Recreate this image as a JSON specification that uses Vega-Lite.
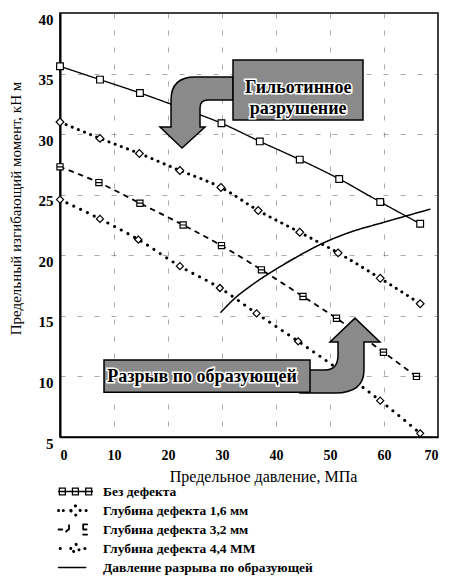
{
  "$schema": "https://vega.github.io/schema/vega-lite/v6.json",
  "width": 378,
  "height": 424,
  "autosize": {"type": "none"},
  "padding": {"left": 60, "top": 13, "right": 12, "bottom": 143},
  "background": "white",
  "config": {
    "font": "Liberation Serif",
    "view": {"stroke": "black", "strokeWidth": 1.5},
    "axis": {
      "labelFont": "Liberation Serif",
      "titleFont": "Liberation Serif",
      "labelColor": "black",
      "titleColor": "black",
      "domainColor": "black",
      "gridColor": "#444",
      "gridDash": [5, 12],
      "gridOpacity": 0.45,
      "ticks": false
    }
  },
  "datasets": {
    "curves": [
      {"s": "Без дефекта", "p": 0, "m": 35.6},
      {"s": "Без дефекта", "p": 7.4, "m": 34.5},
      {"s": "Без дефекта", "p": 14.8, "m": 33.4},
      {"s": "Без дефекта", "p": 22.2, "m": 32.2},
      {"s": "Без дефекта", "p": 29.9, "m": 30.9},
      {"s": "Без дефекта", "p": 37.0, "m": 29.4},
      {"s": "Без дефекта", "p": 44.4, "m": 27.9},
      {"s": "Без дефекта", "p": 51.7, "m": 26.3},
      {"s": "Без дефекта", "p": 59.3, "m": 24.4},
      {"s": "Без дефекта", "p": 66.7, "m": 22.6},
      {"s": "Глубина дефекта 1,6 мм", "p": 0, "m": 31.0},
      {"s": "Глубина дефекта 1,6 мм", "p": 7.4, "m": 29.65},
      {"s": "Глубина дефекта 1,6 мм", "p": 14.7, "m": 28.4},
      {"s": "Глубина дефекта 1,6 мм", "p": 22.2, "m": 27.0},
      {"s": "Глубина дефекта 1,6 мм", "p": 29.8, "m": 25.6},
      {"s": "Глубина дефекта 1,6 мм", "p": 36.7, "m": 23.7},
      {"s": "Глубина дефекта 1,6 мм", "p": 44.4, "m": 21.9},
      {"s": "Глубина дефекта 1,6 мм", "p": 51.5, "m": 20.2},
      {"s": "Глубина дефекта 1,6 мм", "p": 59.3, "m": 18.1},
      {"s": "Глубина дефекта 1,6 мм", "p": 66.7, "m": 16.0},
      {"s": "Глубина дефекта 3,2 мм", "p": 0, "m": 27.3},
      {"s": "Глубина дефекта 3,2 мм", "p": 7.2, "m": 26.0},
      {"s": "Глубина дефекта 3,2 мм", "p": 14.8, "m": 24.3},
      {"s": "Глубина дефекта 3,2 мм", "p": 22.8, "m": 22.5},
      {"s": "Глубина дефекта 3,2 мм", "p": 29.9, "m": 20.8},
      {"s": "Глубина дефекта 3,2 мм", "p": 37.3, "m": 18.8},
      {"s": "Глубина дефекта 3,2 мм", "p": 45.0, "m": 16.6},
      {"s": "Глубина дефекта 3,2 мм", "p": 51.2, "m": 14.8},
      {"s": "Глубина дефекта 3,2 мм", "p": 59.9, "m": 12.0},
      {"s": "Глубина дефекта 3,2 мм", "p": 66.0, "m": 10.0},
      {"s": "Глубина дефекта 4,4 ММ", "p": 0, "m": 24.6},
      {"s": "Глубина дефекта 4,4 ММ", "p": 7.4, "m": 23.0},
      {"s": "Глубина дефекта 4,4 ММ", "p": 14.5, "m": 21.3},
      {"s": "Глубина дефекта 4,4 ММ", "p": 22.2, "m": 19.1},
      {"s": "Глубина дефекта 4,4 ММ", "p": 29.6, "m": 17.3},
      {"s": "Глубина дефекта 4,4 ММ", "p": 36.4, "m": 15.2},
      {"s": "Глубина дефекта 4,4 ММ", "p": 44.1, "m": 12.9},
      {"s": "Глубина дефекта 4,4 ММ", "p": 51.5, "m": 10.6},
      {"s": "Глубина дефекта 4,4 ММ", "p": 59.3, "m": 8.0},
      {"s": "Глубина дефекта 4,4 ММ", "p": 66.7, "m": 5.3},
      {"s": "Давление  разрыва  по образующей", "p": 29.8, "m": 15.3},
      {"s": "Давление  разрыва  по образующей", "p": 32.0, "m": 16.3},
      {"s": "Давление  разрыва  по образующей", "p": 35.7, "m": 17.6},
      {"s": "Давление  разрыва  по образующей", "p": 39.8, "m": 18.8},
      {"s": "Давление  разрыва  по образующей", "p": 44.4, "m": 20.0},
      {"s": "Давление  разрыва  по образующей", "p": 48.7, "m": 21.0},
      {"s": "Давление  разрыва  по образующей", "p": 53.7, "m": 21.9},
      {"s": "Давление  разрыва  по образующей", "p": 59.8, "m": 22.7},
      {"s": "Давление  разрыва  по образующей", "p": 68.5, "m": 23.8}
    ]
  },
  "data": {"name": "curves"},
  "layer": [
    {
      "mark": {"type": "line", "interpolate": "monotone", "strokeCap": "round", "clip": true},
      "encoding": {
        "x": {
          "field": "p", "type": "quantitative",
          "scale": {"domain": [0, 70], "nice": false, "zero": false},
          "axis": {
            "title": "Предельное давление, МПа",
            "values": [0, 10, 20, 30, 40, 50, 60, 70],
            "labelFontSize": 14, "labelFontWeight": "bold", "labelPadding": 11,
            "titleFontSize": 16, "titleFontWeight": "normal",
            "titleX": 203, "titleY": 39, "titleBaseline": "middle",
            "domainWidth": 1.5, "grid": true
          }
        },
        "y": {
          "field": "m", "type": "quantitative",
          "scale": {"domain": [5, 40], "nice": false, "zero": false},
          "axis": {
            "title": "Предельный изгибающий момент, кН м",
            "values": [5, 10, 15, 20, 25, 30, 35, 40],
            "labelFontSize": 15, "labelFontWeight": "bold", "labelPadding": 7, "labelOffset": 6,
            "titleFontSize": 15, "titleFontWeight": "normal",
            "titleX": -45, "titleY": 195, "titleAngle": 270, "titleBaseline": "middle", "titleAlign": "center",
            "domainWidth": 2, "grid": true
          }
        },
        "color": {
          "field": "s", "type": "nominal",
          "scale": {
            "domain": ["Без дефекта", "Глубина дефекта 1,6 мм", "Глубина дефекта 3,2 мм", "Глубина дефекта 4,4 ММ", "Давление  разрыва  по образующей"],
            "range": ["black", "black", "black", "black", "black"]
          },
          "legend": {
            "orient": "none", "legendX": -3, "legendY": 469, "direction": "vertical", "title": null,
            "symbolSize": 1156, "clipHeight": 19, "labelOffset": 9, "padding": 0, "rowPadding": 0,
            "labelFont": "Liberation Serif", "labelFontSize": 13.5, "labelFontWeight": "bold", "labelColor": "black", "labelLimit": 320,
            "encode": {
              "symbols": {
                "update": {
                  "shape": {"signal": "datum.value === 'Без дефекта' ? 'M-1,0H1M-0.95,-0.2H-0.6V0.2H-0.95ZM-0.18,-0.2H0.17V0.2H-0.18ZM0.6,-0.2H0.95V0.2H0.6Z' : datum.value === 'Глубина дефекта 1,6 мм' ? 'M-1,0h0.05M-0.72,0h0.05M-0.28,0L0,-0.28L0.28,0L0,0.28ZM0.62,0h0.05' : datum.value === 'Глубина дефекта 3,2 мм' ? 'M-1,0H-0.78M-0.55,0.12L-0.3,-0.1M-0.38,-0.25V0.25M0.45,-0.3V0.3M0.45,-0.3H0.7M0.45,0H0.65M0.45,0.3H0.7' : datum.value === 'Глубина дефекта 4,4 ММ' ? 'M-0.9,0h0.05M-0.28,0L0,-0.28L0.28,0L0,0.28ZM0.55,0h0.05' : 'M-1,0H0.6'"},
                  "strokeWidth": {"signal": "datum.value === 'Глубина дефекта 1,6 мм' || datum.value === 'Глубина дефекта 4,4 ММ' ? 2.2 : 1.4"},
                  "fill": {"value": "transparent"},
                  "stroke": {"value": "black"},
                  "strokeDash": {"value": []},
                  "strokeCap": {"value": "round"}
                }
              }
            }
          }
        },
        "strokeDash": {
          "field": "s", "type": "nominal",
          "scale": {
            "domain": ["Без дефекта", "Глубина дефекта 1,6 мм", "Глубина дефекта 3,2 мм", "Глубина дефекта 4,4 ММ", "Давление  разрыва  по образующей"],
            "range": [[1, 0], [0.1, 6.5], [4, 6], [0.1, 7.5], [1, 0]]
          },
          "legend": null
        },
        "strokeWidth": {
          "field": "s", "type": "nominal",
          "scale": {
            "type": "ordinal",
            "domain": ["Без дефекта", "Глубина дефекта 1,6 мм", "Глубина дефекта 3,2 мм", "Глубина дефекта 4,4 ММ", "Давление  разрыва  по образующей"],
            "range": [1.3, 3, 1.8, 3, 1.5]
          },
          "legend": null
        }
      }
    },
    {
      "transform": [{"filter": {"field": "s", "oneOf": ["Без дефекта", "Глубина дефекта 1,6 мм", "Глубина дефекта 3,2 мм", "Глубина дефекта 4,4 ММ"]}}],
      "mark": {"type": "point", "filled": false, "fill": "white", "stroke": "black", "strokeWidth": 1.2, "opacity": 1},
      "encoding": {
        "x": {"field": "p", "type": "quantitative"},
        "y": {"field": "m", "type": "quantitative"},
        "shape": {
          "field": "s", "type": "nominal",
          "scale": {
            "domain": ["Без дефекта", "Глубина дефекта 1,6 мм", "Глубина дефекта 3,2 мм", "Глубина дефекта 4,4 ММ"],
            "range": ["square", "diamond", "M-1,-1H1V1H-1ZM-1,0H1", "diamond"]
          },
          "legend": null
        },
        "size": {
          "field": "s", "type": "nominal",
          "scale": {
            "type": "ordinal",
            "domain": ["Без дефекта", "Глубина дефекта 1,6 мм", "Глубина дефекта 3,2 мм", "Глубина дефекта 4,4 ММ"],
            "range": [45, 60, 38, 50]
          },
          "legend": null
        }
      }
    },
    {
      "data": {"values": [{}]},
      "mark": {"type": "point", "shape": "M0.825,-0.875L-0.125,-0.875Q-0.725,-0.875,-0.725,-0.3L-0.725,0.375L-1,0.375L-0.45,0.9L0.125,0.375L0,0.375L0,-0.1Q0,-0.3,0.2,-0.3L0.825,-0.3Z", "size": 6400, "filled": true, "fill": "#8a8a8a", "stroke": "black", "strokeWidth": 1.5, "opacity": 1},
      "encoding": {"x": {"datum": 25.93}, "y": {"datum": 31.82}}
    },
    {
      "data": {"values": [{}]},
      "mark": {"type": "point", "shape": "M-0.889,0.222L-0.333,0.222Q-0.044,0.222,-0.044,-0.111L-0.044,-0.4L-0.222,-0.4L0.333,-0.933L0.889,-0.4L0.533,-0.4L0.533,0.222Q0.533,0.733,-0.111,0.733L-0.889,0.733Z", "size": 8100, "filled": true, "fill": "#8a8a8a", "stroke": "black", "strokeWidth": 1.5, "opacity": 1},
      "encoding": {"x": {"datum": 51.85}, "y": {"datum": 11.35}}
    },
    {
      "data": {"values": [{}]},
      "mark": {"type": "rect", "fill": "#8a8a8a", "stroke": "black", "strokeWidth": 1.5},
      "encoding": {"x": {"datum": 32.04}, "x2": {"datum": 56.11}, "y": {"datum": 36.12}, "y2": {"datum": 31.16}}
    },
    {
      "data": {"values": [{}]},
      "mark": {"type": "rect", "fill": "#8a8a8a", "stroke": "black", "strokeWidth": 1.5},
      "encoding": {"x": {"datum": 8.15}, "x2": {"datum": 46.3}, "y": {"datum": 11.35}, "y2": {"datum": 8.7}}
    },
    {
      "data": {"values": [{"t": ["Гильотинное", "разрушение"]}]},
      "mark": {"type": "text", "font": "Liberation Serif", "fontWeight": "bold", "fontSize": 18, "lineHeight": 21, "align": "center", "baseline": "middle", "fill": "white", "stroke": "white", "strokeWidth": 3},
      "encoding": {"x": {"datum": 44.1}, "y": {"datum": 33.8}, "text": {"field": "t"}}
    },
    {
      "data": {"values": [{"t": ["Гильотинное", "разрушение"]}]},
      "mark": {"type": "text", "font": "Liberation Serif", "fontWeight": "bold", "fontSize": 18, "lineHeight": 21, "align": "center", "baseline": "middle", "fill": "black"},
      "encoding": {"x": {"datum": 44.1}, "y": {"datum": 33.8}, "text": {"field": "t"}}
    },
    {
      "data": {"values": [{"t": "Разрыв по образующей"}]},
      "mark": {"type": "text", "font": "Liberation Serif", "fontWeight": "bold", "fontSize": 18, "align": "center", "baseline": "middle", "fill": "white", "stroke": "white", "strokeWidth": 3},
      "encoding": {"x": {"datum": 26.3}, "y": {"datum": 9.94}, "text": {"field": "t"}}
    },
    {
      "data": {"values": [{"t": "Разрыв по образующей"}]},
      "mark": {"type": "text", "font": "Liberation Serif", "fontWeight": "bold", "fontSize": 18, "align": "center", "baseline": "middle", "fill": "black"},
      "encoding": {"x": {"datum": 26.3}, "y": {"datum": 9.94}, "text": {"field": "t"}}
    }
  ]
}
